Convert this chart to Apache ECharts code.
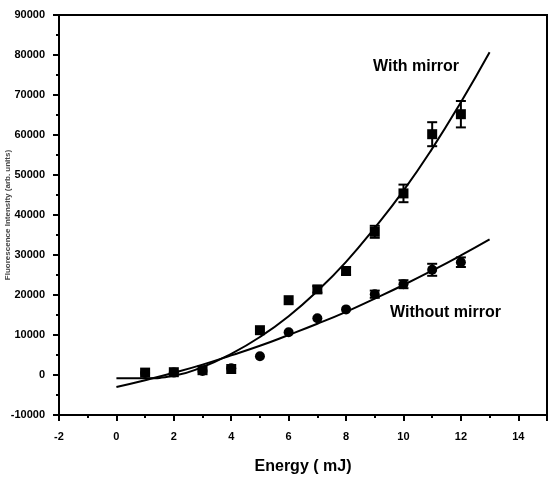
<!DOCTYPE html>
<html>
<head>
<meta charset="utf-8">
<script src="https://cdn.jsdelivr.net/npm/echarts@6/dist/echarts.min.js"></script>
<style>
  html, body { margin: 0; padding: 0; background: #fff; }
  #chart { width: 551px; height: 478px; }
</style>
</head>
<body>
<div id="chart"></div>
<script>
// 测量点 (Energy, mJ)
var energy = [1, 2, 3, 4, 5, 6, 7, 8, 9, 10, 11, 12];
var withMirror = [600, 700, 1200, 1500, 11200, 18700, 21400, 26000, 35800, 45400, 60200, 65200];
var withMirrorErr = [0, 0, 0, 0, 0, 0, 800, 900, 1500, 2200, 3000, 3300];
var withoutMirror = [500, 600, 1000, 1700, 4700, 10700, 14200, 16400, 20200, 22700, 26300, 28200];
var withoutMirrorErr = [0, 0, 0, 0, 0, 0, 0, 0, 900, 1000, 1500, 1200];

// 拟合曲线
var fitX = [0, 1, 2, 3, 4, 5, 6, 7, 8, 9, 10, 11, 12, 13];
var fitWith = [-800, -800, -200, 2000, 5300, 9500, 14700, 21000, 28300, 36800, 46100, 56600, 68200, 80700];
var fitWithout = [-3000, -1300, 550, 2600, 4900, 7300, 10000, 12800, 15800, 19100, 22500, 26100, 29900, 33900];

var xTicks = [-2, 0, 2, 4, 6, 8, 10, 12, 14];
var yTicks = [-10000, 0, 10000, 20000, 30000, 40000, 50000, 60000, 70000, 80000, 90000];

function pairs(xs, ys) {
    return xs.map(function (x, i) { return [x, ys[i]]; });
}

function errData(vals, errs) {
    var out = [];
    energy.forEach(function (x, i) {
        if (errs[i] > 0) out.push([x, vals[i] - errs[i], vals[i] + errs[i]]);
    });
    return out;
}

function renderErr(params, api) {
    var lo = api.coord([api.value(0), api.value(1)]);
    var hi = api.coord([api.value(0), api.value(2)]);
    var w = 5;
    var st = { stroke: '#000', lineWidth: 2 };
    return {
        type: 'group',
        children: [
            { type: 'line', shape: { x1: lo[0], y1: lo[1], x2: hi[0], y2: hi[1] }, style: st },
            { type: 'line', shape: { x1: lo[0] - w, y1: lo[1], x2: lo[0] + w, y2: lo[1] }, style: st },
            { type: 'line', shape: { x1: hi[0] - w, y1: hi[1], x2: hi[0] + w, y2: hi[1] }, style: st }
        ]
    };
}

var labelFont = { color: '#000', fontFamily: 'Liberation Sans', fontWeight: 'bold', fontSize: 11 };

var myChart = echarts.init(document.getElementById('chart'));
var option = {
    animation: false,
    grid: {
        left: 59, right: 4, top: 15, bottom: 63,
        outerBoundsMode: 'none',
        containLabel: false,
        show: true, borderColor: '#000', borderWidth: 2
    },
    xAxis: {
        type: 'value',
        min: -2, max: 15, interval: 2,
        name: 'Energy ( mJ)',
        nameLocation: 'middle',
        nameGap: 44,
        nameMoveOverlap: false,
        nameTextStyle: { color: '#000', fontFamily: 'Liberation Sans', fontWeight: 'bold', fontSize: 16 },
        axisLine: { onZero: false, lineStyle: { color: '#000', width: 2 } },
        axisTick: { length: 6, lineStyle: { color: '#000', width: 2 } },
        minorTick: { show: true, splitNumber: 2, length: 3, lineStyle: { color: '#000', width: 2 } },
        splitLine: { show: false },
        axisLabel: Object.assign({ margin: 16, showMaxLabel: false,
            formatter: function (v) { return xTicks.indexOf(v) >= 0 ? String(v) : ''; } }, labelFont)
    },
    yAxis: {
        type: 'value',
        min: -10000, max: 90000, interval: 10000,
        name: 'Fluorescence Intensity (arb. units)',
        nameLocation: 'middle',
        nameGap: 47,
        nameMoveOverlap: false,
        nameTextStyle: { color: '#444', fontFamily: 'Liberation Sans', fontWeight: 'bold', fontSize: 8 },
        axisLine: { onZero: false, lineStyle: { color: '#000', width: 2 } },
        axisTick: { length: 6, lineStyle: { color: '#000', width: 2 } },
        minorTick: { show: true, splitNumber: 2, length: 3, lineStyle: { color: '#000', width: 2 } },
        splitLine: { show: false },
        axisLabel: Object.assign({ margin: 14,
            formatter: function (v) { return yTicks.indexOf(v) >= 0 ? String(v) : ''; } }, labelFont)
    },
    series: [
        {
            name: 'fit with',
            type: 'line', smooth: true, symbol: 'none',
            data: pairs(fitX, fitWith),
            lineStyle: { color: '#000', width: 2 }
        },
        {
            name: 'fit without',
            type: 'line', smooth: true, symbol: 'none',
            data: pairs(fitX, fitWithout),
            lineStyle: { color: '#000', width: 2 }
        },
        {
            name: 'With mirror',
            type: 'scatter', symbol: 'rect', symbolSize: 10,
            itemStyle: { color: '#000', opacity: 1 },
            data: pairs(energy, withMirror)
        },
        {
            name: 'Without mirror',
            type: 'scatter', symbol: 'circle', symbolSize: 10,
            itemStyle: { color: '#000', opacity: 1 },
            data: pairs(energy, withoutMirror)
        },
        {
            type: 'custom', renderItem: renderErr,
            data: errData(withMirror, withMirrorErr), z: 3
        },
        {
            type: 'custom', renderItem: renderErr,
            data: errData(withoutMirror, withoutMirrorErr), z: 3
        }
    ],
    graphic: [
        { type: 'text', left: 373, top: 59,
          style: { text: 'With mirror', fill: '#000', font: 'bold 16px "Liberation Sans"' } },
        { type: 'text', left: 390, top: 305,
          style: { text: 'Without mirror', fill: '#000', font: 'bold 16px "Liberation Sans"' } }
    ]
};

myChart.setOption(option);
</script>
</body>
</html>
